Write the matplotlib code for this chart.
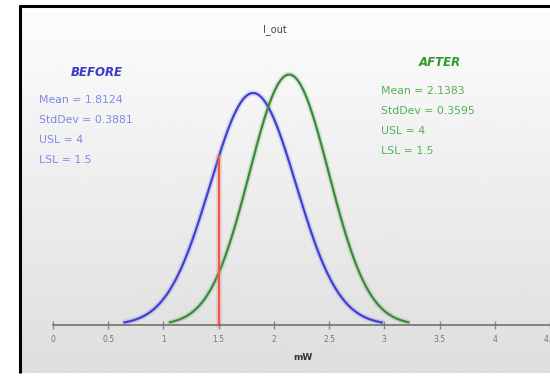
import numpy as np
import matplotlib
matplotlib.use("Agg")
import matplotlib.pyplot as plt

# process capability comparison, I_out before / after
labels = ["BEFORE", "AFTER"]
means = [1.8124, 2.1383]
stddevs = [0.3881, 0.3595]
usl = 4
lsl = 1.5
xticks = [0, 0.5, 1, 1.5, 2, 2.5, 3, 3.5, 4, 4.5]
xtick_labels = ["0", "0.5", "1", "1.5", "2", "2.5", "3", "3.5", "4", "4.5"]

plt.rcParams['font.family'] = ['DejaVu Sans']

fig = plt.figure(figsize=(5.5, 3.78), dpi=100)
fig.patch.set_facecolor("white")

# background panel with vertical gradient
bg = fig.add_axes([0, 0, 1, 1])
bg.set_xlim(0, 550)
bg.set_ylim(378, 0)
bg.axis("off")
grad = np.linspace(0.99, 0.87, 256).reshape(-1, 1)
bg.imshow(grad, cmap="gray", vmin=0, vmax=1, aspect="auto",
          extent=(21, 550, 373, 7), zorder=0)
bg.plot([20, 20], [5, 373], color="black", lw=2.2, solid_capstyle="butt")
bg.plot([19, 550], [6, 6], color="black", lw=2.2, solid_capstyle="butt")

ax = fig.add_axes([0, 0, 1, 1])
ax.patch.set_alpha(0)
px = 110.6   # pixels per x unit
py = 225.7   # pixels per y unit
ax.set_xlim(-53 / px, (550 - 53) / px)
ax.set_ylim(-(378 - 325) / py, 325 / py)

colors = ["#4040d4", "#3a8a3a"]
for m, s, c in zip(means, stddevs, colors):
    x = np.linspace(m - 3 * s, m + 3 * s, 300)
    y = np.exp(-0.5 * ((x - m) / s) ** 2) / (s * np.sqrt(2 * np.pi))
    ax.plot(x, y, color=c, lw=4, alpha=0.15, solid_capstyle="round")
    ax.plot(x, y, color=c, lw=1.6)

# LSL marker up to the before curve
m, s = means[0], stddevs[0]
ytop = np.exp(-0.5 * ((lsl - m) / s) ** 2) / (s * np.sqrt(2 * np.pi))
ax.plot([lsl, lsl], [0, ytop], color="#f08080", lw=4, alpha=0.3)
ax.plot([lsl, lsl], [0, ytop], color="#e85a50", lw=1.5)

for sp in ["top", "left", "right"]:
    ax.spines[sp].set_visible(False)
ax.spines["bottom"].set_position(("data", 0))
ax.spines["bottom"].set_bounds(0, 5)
ax.spines["bottom"].set_color("#707070")
ax.spines["bottom"].set_linewidth(1.2)
ax.set_yticks([])
ax.set_xticks(xticks)
ax.set_xticklabels(xtick_labels)
ax.tick_params(axis="x", direction="inout", length=6, width=1, color="#8a8a8a",
               labelsize=5.5, labelcolor="#777777", pad=4)

def fx(xp):
    return xp / 550

def fy(yp):
    return 1 - yp / 378

fig.text(fx(275), fy(30), "I_out", fontsize=7, color="#444444", ha="center", va="center")
fig.text(fx(303), fy(357), "mW", fontsize=6.5, color="#333333", ha="center", va="center",
         fontweight="bold")

# stats blocks
fig.text(fx(97), fy(73), labels[0], fontsize=8.5, color="#3a3acb", ha="center", va="center",
         fontweight="bold", style="italic")
fig.text(fx(440), fy(63), labels[1], fontsize=8.5, color="#2f9a2f", ha="center", va="center",
         fontweight="bold", style="italic")
lines_b = ["Mean = %.4f" % means[0], "StdDev = %.4f" % stddevs[0],
           "USL = %g" % usl, "LSL = %g" % lsl]
lines_a = ["Mean = %.4f" % means[1], "StdDev = %.4f" % stddevs[1],
           "USL = %g" % usl, "LSL = %g" % lsl]
for i, t in enumerate(lines_b):
    fig.text(fx(39), fy(100 + 20 * i), t, fontsize=7.8, color="#7f8ae6", ha="left", va="center")
for i, t in enumerate(lines_a):
    fig.text(fx(381), fy(91 + 20 * i), t, fontsize=7.8, color="#55b055", ha="left", va="center")

fig.savefig("out.png", dpi=100)
